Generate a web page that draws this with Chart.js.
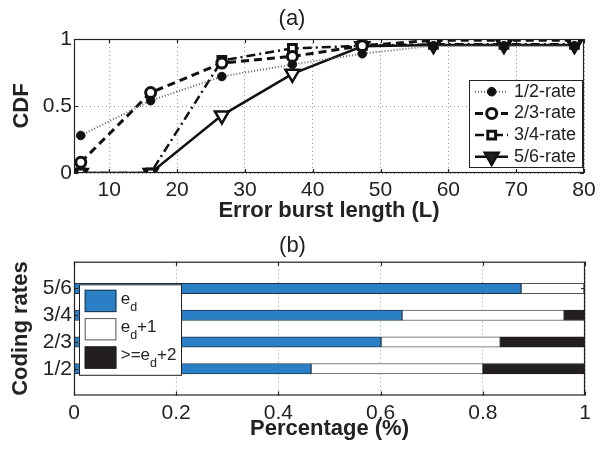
<!DOCTYPE html>
<html>
<head>
<meta charset="utf-8">
<script src="https://cdn.jsdelivr.net/npm/chart.js@4.4.0/dist/chart.umd.min.js"></script>
<style>
  html, body { margin: 0; padding: 0; background: #fff; }
  #wrap { position: relative; width: 608px; height: 450px; }
  canvas { position: absolute; left: 0; }
  #cdfChart { top: 0; }
  #rateChart { top: 225px; }
</style>
</head>
<body>
<div id="wrap">
  <canvas id="cdfChart" width="608" height="225"></canvas>
  <canvas id="rateChart" width="608" height="225"></canvas>
</div>
<script>
// (a) CDF of error burst length
const burstLen = [5.8, 16.1, 26.6, 37.0, 47.3, 57.8, 68.2, 78.6];
const rate12 = [0.28, 0.54, 0.72, 0.81, 0.89, 0.95, 0.95, 0.95];
const rate23 = [0.08, 0.60, 0.82, 0.87, 0.95, 0.99, 0.99, 0.99];
const rate34 = [0, 0, 0.84, 0.93, 0.95, 0.96, 0.96, 0.96];
const rate56 = [0, 0, 0.43, 0.74, 0.945, 0.955, 0.955, 0.955];
const xTicksA = [10, 20, 30, 40, 50, 60, 70, 80];
const yTicksA = [0, 0.5, 1];

// (b) share per coding rate
const codingRates = ['1/2', '2/3', '3/4', '5/6'];
const edShare = [0.464, 0.601, 0.642, 0.875];
const ed1Share = [0.336, 0.233, 0.317, 0.123];
const ed2Share = [0.20, 0.166, 0.041, 0.002];
const xTicksB = [0, 0.2, 0.4, 0.6, 0.8, 1];

const FONT = "'Liberation Sans', Arial, sans-serif";
Chart.defaults.font.family = FONT;
Chart.defaults.color = '#222';
Chart.defaults.animation = false;

function pts(xs, ys) {
  return ys.map((y, i) => ({ x: xs[i], y }));
}

// matlab style box with inner ticks
const boxPlugin = {
  id: 'box',
  afterDraw(chart) {
    const { ctx, chartArea: a, scales } = chart;
    ctx.save();
    ctx.strokeStyle = '#222';
    ctx.lineWidth = 1.2;
    ctx.strokeRect(a.left + 0.5, a.top + 0.5, a.width - 1, a.height - 1);
    ctx.beginPath();
    scales.x.ticks.forEach(t => {
      const px = Math.round(scales.x.getPixelForValue(t.value)) + 0.5;
      ctx.moveTo(px, a.bottom); ctx.lineTo(px, a.bottom - 4);
      ctx.moveTo(px, a.top); ctx.lineTo(px, a.top + 4);
    });
    scales.y.ticks.forEach(t => {
      const py = Math.round(scales.y.getPixelForValue(t.value)) + 0.5;
      ctx.moveTo(a.left, py); ctx.lineTo(a.left + 4, py);
      ctx.moveTo(a.right, py); ctx.lineTo(a.right - 4, py);
    });
    ctx.stroke();
    ctx.restore();
  }
};

function marker(ctx, style, r, x, y) {
  ctx.beginPath();
  if (style === 'rect') {
    const s = r / Math.SQRT2;
    ctx.rect(x - s, y - s, 2 * s, 2 * s);
  } else if (style === 'triangle') {
    ctx.moveTo(x, y + r);
    ctx.lineTo(x - r * 0.866, y - r * 0.5);
    ctx.lineTo(x + r * 0.866, y - r * 0.5);
    ctx.closePath();
  } else {
    ctx.arc(x, y, r, 0, Math.PI * 2);
  }
  ctx.fill();
  ctx.stroke();
}

const cdfLegend = {
  id: 'cdfLegend',
  afterDraw(chart) {
    const { ctx, chartArea: a } = chart;
    const x0 = a.right - 115, y0 = a.top + 41, w = 113, h = 87;
    ctx.save();
    ctx.fillStyle = '#fff';
    ctx.fillRect(x0, y0, w, h);
    ctx.strokeStyle = '#222';
    ctx.lineWidth = 1;
    ctx.strokeRect(x0 + 0.5, y0 + 0.5, w, h);
    chart.data.datasets.forEach((ds, i) => {
      const y = y0 + 11.7 + i * 21.7;
      ctx.strokeStyle = ds.borderColor;
      ctx.lineWidth = ds.borderWidth;
      ctx.setLineDash(ds.borderDash || []);
      ctx.beginPath();
      ctx.moveTo(x0 + 6, y);
      ctx.lineTo(x0 + 39, y);
      ctx.stroke();
      ctx.setLineDash([]);
      ctx.fillStyle = i === 3 ? '#222' : ds.pointBackgroundColor;
      ctx.strokeStyle = ds.pointBorderColor;
      ctx.lineWidth = ds.pointBorderWidth;
      marker(ctx, ds.pointStyle, ds.pointRadius, x0 + 22.7, y);
      ctx.fillStyle = '#222';
      ctx.font = '18px ' + FONT;
      ctx.textBaseline = 'middle';
      ctx.textAlign = 'left';
      ctx.fillText(ds.label, x0 + 45, y);
    });
    ctx.restore();
  }
};

// label like "e_d+1": e with subscript d
function subLabel(ctx, text, x, y) {
  const parts = text.split('_d');
  ctx.textBaseline = 'middle';
  ctx.textAlign = 'left';
  ctx.font = '17px ' + FONT;
  ctx.fillText(parts[0], x, y - 2);
  x += ctx.measureText(parts[0]).width;
  ctx.font = '12.5px ' + FONT;
  ctx.fillText('d', x, y + 6.3);
  x += ctx.measureText('d').width;
  if (parts[1]) {
    ctx.font = '17px ' + FONT;
    ctx.fillText(parts[1], x, y - 2);
  }
}

const rateLegend = {
  id: 'rateLegend',
  afterDraw(chart) {
    const { ctx, chartArea: a } = chart;
    const x0 = a.left + 5, y0 = a.top + 22.6, w = 102, h = 90.5;
    ctx.save();
    ctx.fillStyle = '#fff';
    ctx.fillRect(x0, y0, w, h);
    ctx.strokeStyle = '#222';
    ctx.lineWidth = 1;
    ctx.strokeRect(x0 + 0.5, y0 + 0.5, w, h);
    chart.data.datasets.forEach((ds, i) => {
      const y = y0 + 16.7 + i * 28.3;
      ctx.fillStyle = ds.backgroundColor;
      ctx.fillRect(x0 + 5.7, y - 11.2, 31.7, 22.3);
      ctx.strokeStyle = ds.borderColor;
      ctx.lineWidth = 1;
      ctx.strokeRect(x0 + 6.2, y - 10.7, 30.7, 21.3);
      ctx.fillStyle = '#222';
      subLabel(ctx, ds.label, x0 + 41.7, y);
    });
    ctx.restore();
  }
};

new Chart(document.getElementById('cdfChart'), {
  type: 'line',
  data: {
    datasets: [
      {
        label: '1/2-rate', data: pts(burstLen, rate12),
        borderColor: '#666', borderWidth: 2, borderDash: [1, 2],
        pointStyle: 'circle', pointRadius: 4.3,
        pointBackgroundColor: '#111', pointBorderColor: '#111', pointBorderWidth: 1
      },
      {
        label: '2/3-rate', data: pts(burstLen, rate23),
        borderColor: '#111', borderWidth: 3, borderDash: [8, 5],
        pointStyle: 'circle', pointRadius: 5,
        pointBackgroundColor: '#fff', pointBorderColor: '#111', pointBorderWidth: 3
      },
      {
        label: '3/4-rate', data: pts(burstLen, rate34),
        borderColor: '#111', borderWidth: 2.5, borderDash: [9, 4, 2, 4],
        pointStyle: 'rect', pointRadius: 5.5,
        pointBackgroundColor: '#fff', pointBorderColor: '#111', pointBorderWidth: 3
      },
      {
        label: '5/6-rate', data: pts(burstLen, rate56),
        borderColor: '#111', borderWidth: 2.5, borderDash: [],
        pointStyle: 'triangle', pointRotation: 180, pointRadius: 8,
        pointBackgroundColor: '#fff', pointBorderColor: '#111', pointBorderWidth: 2.5
      }
    ]
  },
  options: {
    responsive: false,
    layout: { padding: { left: 0, right: 24, top: 0, bottom: 0 } },
    elements: { line: { tension: 0 } },
    plugins: {
      legend: { display: false },
      tooltip: { enabled: false },
      title: {
        display: true, text: '(a)', color: '#222',
        font: { size: 22, weight: 'normal' },
        padding: { top: 5.3, bottom: 7.3 }
      }
    },
    scales: {
      x: {
        type: 'linear', min: 4.8, max: 80,
        afterBuildTicks: s => { s.ticks = xTicksA.map(v => ({ value: v })); },
        afterFit: s => { s.height = 52; },
        ticks: { font: { size: 21 }, padding: 4.5, color: '#222', callback: v => String(v) },
        grid: { color: '#999', drawTicks: false },
        border: { display: false, dash: [1, 3] },
        title: {
          display: true, text: 'Error burst length (L)', color: '#222',
          font: { size: 22, weight: 'bold' }, padding: { top: 0, bottom: 1 }
        }
      },
      y: {
        type: 'linear', min: 0, max: 1,
        afterBuildTicks: s => { s.ticks = yTicksA.map(v => ({ value: v })); },
        afterFit: s => { s.width = 74; },
        ticks: { font: { size: 21 }, padding: 2, color: '#222', callback: v => String(v) },
        grid: { color: '#999', drawTicks: false },
        border: { display: false, dash: [1, 3] },
        title: {
          display: true, text: 'CDF', color: '#222',
          font: { size: 22, weight: 'bold' }, padding: { top: 8.5, bottom: 0 }
        }
      }
    }
  },
  plugins: [boxPlugin, cdfLegend]
});

new Chart(document.getElementById('rateChart'), {
  type: 'bar',
  data: {
    datasets: [
      {
        label: 'e_d', data: edShare.map((v, i) => ({ x: v, y: i + 1 })),
        backgroundColor: '#2b7fc4', borderColor: '#1e3550'
      },
      {
        label: 'e_d+1', data: ed1Share.map((v, i) => ({ x: v, y: i + 1 })),
        backgroundColor: '#ffffff', borderColor: '#555'
      },
      {
        label: '>=e_d+2', data: ed2Share.map((v, i) => ({ x: v, y: i + 1 })),
        backgroundColor: '#231f20', borderColor: '#231f20'
      }
    ]
  },
  options: {
    responsive: false,
    indexAxis: 'y',
    layout: { padding: { left: 0, right: 23, top: 0, bottom: 0 } },
    datasets: { bar: { barThickness: 10.5, borderWidth: 1, borderSkipped: false } },
    plugins: {
      legend: { display: false },
      tooltip: { enabled: false },
      title: {
        display: true, text: '(b)', color: '#222',
        font: { size: 22, weight: 'normal' },
        padding: { top: 7.5, bottom: 2.8 }
      }
    },
    scales: {
      x: {
        type: 'linear', min: 0, max: 1, stacked: true,
        afterBuildTicks: s => { s.ticks = xTicksB.map(v => ({ value: v })); },
        afterFit: s => { s.height = 54.5; },
        ticks: { font: { size: 21 }, padding: 5, color: '#222', callback: v => String(v) },
        grid: { color: '#999', drawTicks: false },
        border: { display: false, dash: [1, 3] },
        title: {
          display: true, text: 'Percentage (%)', color: '#222',
          font: { size: 22, weight: 'bold' }, padding: { top: 0, bottom: 7.5 }
        }
      },
      y: {
        type: 'linear', min: 0, max: 5, stacked: true, offset: false,
        afterBuildTicks: s => { s.ticks = codingRates.map((c, i) => ({ value: i + 1 })); },
        afterFit: s => { s.width = 74; },
        ticks: { font: { size: 21 }, padding: 2, color: '#222', callback: v => codingRates[v - 1] },
        grid: { display: false, drawTicks: false },
        border: { display: false },
        title: {
          display: true, text: 'Coding rates', color: '#222',
          font: { size: 22, weight: 'bold' }, padding: { top: 7.5, bottom: 0 }
        }
      }
    }
  },
  plugins: [boxPlugin, rateLegend]
});
</script>
</body>
</html>
